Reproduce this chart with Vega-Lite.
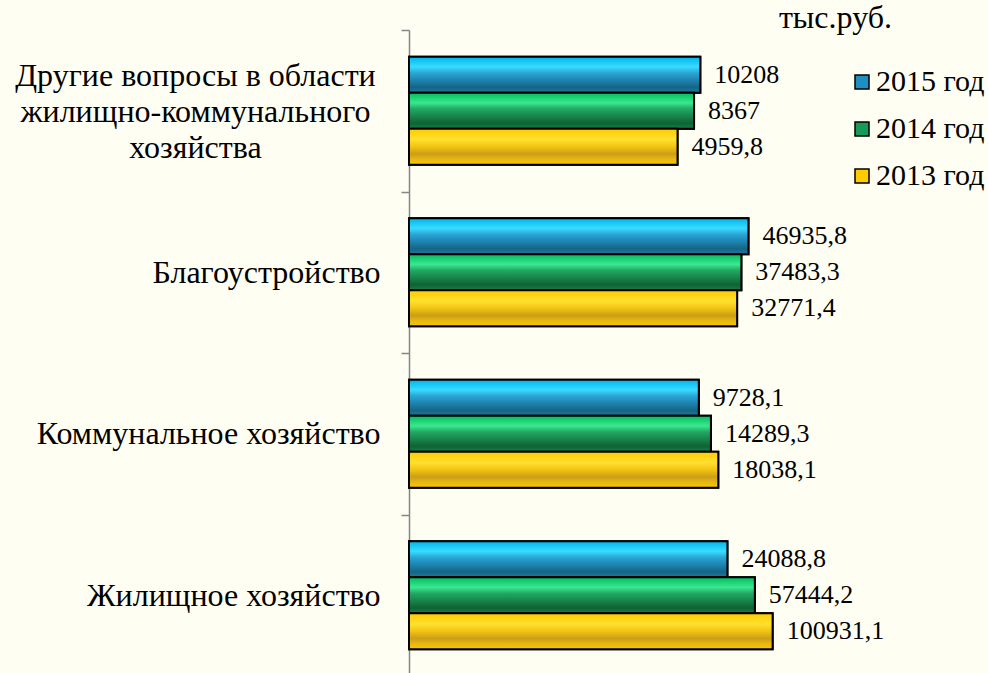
{
  "$schema": "https://vega.github.io/schema/vega-lite/v6.json",
  "width": 436,
  "height": 646,
  "autosize": {"type": "none"},
  "padding": {"left": 409, "top": 30, "right": 143, "bottom": 0},
  "background": "#fffef3",
  "title": {"text": "тыс.руб.", "orient": "top", "anchor": "end", "frame": "group", "align": "right", "dx": 47, "dy": 46, "offset": 0, "baseline": "alphabetic", "font": "Liberation Serif", "fontSize": 32, "fontWeight": "normal", "color": "#000000"},
  "config": {"view": {"stroke": null}, "font": "Liberation Serif"},
  "data": {"values": [
    {"cat": "Другие вопросы в области жилищно-коммунального хозяйства", "year": "2015 год", "value": 10208, "label": "10208"},
    {"cat": "Другие вопросы в области жилищно-коммунального хозяйства", "year": "2014 год", "value": 8367, "label": "8367"},
    {"cat": "Другие вопросы в области жилищно-коммунального хозяйства", "year": "2013 год", "value": 4959.8, "label": "4959,8"},
    {"cat": "Благоустройство", "year": "2015 год", "value": 46935.8, "label": "46935,8"},
    {"cat": "Благоустройство", "year": "2014 год", "value": 37483.3, "label": "37483,3"},
    {"cat": "Благоустройство", "year": "2013 год", "value": 32771.4, "label": "32771,4"},
    {"cat": "Коммунальное хозяйство", "year": "2015 год", "value": 9728.1, "label": "9728,1"},
    {"cat": "Коммунальное хозяйство", "year": "2014 год", "value": 14289.3, "label": "14289,3"},
    {"cat": "Коммунальное хозяйство", "year": "2013 год", "value": 18038.1, "label": "18038,1"},
    {"cat": "Жилищное хозяйство", "year": "2015 год", "value": 24088.8, "label": "24088,8"},
    {"cat": "Жилищное хозяйство", "year": "2014 год", "value": 57444.2, "label": "57444,2"},
    {"cat": "Жилищное хозяйство", "year": "2013 год", "value": 100931.1, "label": "100931,1"}
  ]},
  "encoding": {
    "y": {
      "field": "cat", "type": "nominal",
      "sort": ["Другие вопросы в области жилищно-коммунального хозяйства", "Благоустройство", "Коммунальное хозяйство", "Жилищное хозяйство"],
      "scale": {"paddingInner": 0, "paddingOuter": 0},
      "axis": {
        "title": null,
        "tickBand": "extent",
        "domainColor": "#868686",
        "domainWidth": 1.5,
        "tickColor": "#868686",
        "tickWidth": 1.5,
        "tickSize": 8,
        "labelFont": "Liberation Serif",
        "labelFontSize": 32,
        "labelColor": "#000000",
        "labelLimit": 500,
        "labelLineHeight": 36,
        "labelBaseline": "middle",
        "labelExpr": "datum.value == 'Другие вопросы в области жилищно-коммунального хозяйства' ? ['Другие вопросы в области', 'жилищно-коммунального', 'хозяйства'] : datum.label",
        "labelAlign": {"condition": {"test": "datum.value == 'Другие вопросы в области жилищно-коммунального хозяйства'", "value": "center"}, "value": "right"},
        "labelOffset": {"condition": {"test": "datum.value == 'Другие вопросы в области жилищно-коммунального хозяйства'", "value": -35}, "value": 0},
        "labelPadding": {"condition": {"test": "datum.value == 'Другие вопросы в области жилищно-коммунального хозяйства'", "value": 206}, "value": 21}
      }
    },
    "yOffset": {"field": "year", "type": "nominal", "sort": ["2015 год", "2014 год", "2013 год"], "scale": {"paddingInner": 0, "paddingOuter": 0.743}},
    "x": {"field": "value", "type": "quantitative", "scale": {"type": "log", "domain": [1, 1000000], "nice": false}, "axis": null}
  },
  "layer": [
    {
      "mark": {"type": "bar", "stroke": "#000000", "strokeWidth": 2, "cornerRadius": 0},
      "encoding": {
        "x2": {"datum": 1},
        "color": {
          "field": "year", "type": "nominal",
          "sort": ["2015 год", "2014 год", "2013 год"],
          "scale": {"domain": ["2015 год", "2014 год", "2013 год"], "range": ["#1e90c0", "#1a9a58", "#ffcc00"]},
          "legend": {
            "title": null, "orient": "none", "legendX": 438, "legendY": 37,
            "symbolType": "square", "symbolSize": 196, "symbolStrokeColor": "#000000", "symbolStrokeWidth": 1.5,
            "symbolOpacity": 1,
            "labelFont": "Liberation Serif", "labelFontSize": 30, "labelColor": "#000000", "labelOffset": -1,
            "rowPadding": 17
          }
        }
      }
    },
    {
      "transform": [{"filter": "datum.year == '2015 год'"}],
      "mark": {"type": "bar", "stroke": "#000000", "strokeWidth": 2,
        "fill": {"gradient": "linear", "x1": 0, "y1": 0, "x2": 0, "y2": 1, "stops": [
          {"offset": 0, "color": "#00b4ec"}, {"offset": 0.28, "color": "#38dcff"}, {"offset": 0.45, "color": "#2aa6d6"},
          {"offset": 0.62, "color": "#2088b6"}, {"offset": 0.85, "color": "#156585"}, {"offset": 1, "color": "#1f7aa0"}]}},
      "encoding": {"x2": {"datum": 1}}
    },
    {
      "transform": [{"filter": "datum.year == '2014 год'"}],
      "mark": {"type": "bar", "stroke": "#000000", "strokeWidth": 2,
        "fill": {"gradient": "linear", "x1": 0, "y1": 0, "x2": 0, "y2": 1, "stops": [
          {"offset": 0, "color": "#00bc5c"}, {"offset": 0.28, "color": "#3ae890"}, {"offset": 0.45, "color": "#22a862"},
          {"offset": 0.62, "color": "#1a8a4e"}, {"offset": 0.85, "color": "#0f6234"}, {"offset": 1, "color": "#17804a"}]}},
      "encoding": {"x2": {"datum": 1}}
    },
    {
      "transform": [{"filter": "datum.year == '2013 год'"}],
      "mark": {"type": "bar", "stroke": "#000000", "strokeWidth": 2,
        "fill": {"gradient": "linear", "x1": 0, "y1": 0, "x2": 0, "y2": 1, "stops": [
          {"offset": 0, "color": "#ffcc00"}, {"offset": 0.3, "color": "#ffe030"}, {"offset": 0.5, "color": "#f2c412"},
          {"offset": 0.7, "color": "#cc9e18"}, {"offset": 0.85, "color": "#e8b810"}, {"offset": 1, "color": "#f8c800"}]}},
      "encoding": {"x2": {"datum": 1}}
    },
    {
      "mark": {"type": "text", "align": "left", "baseline": "middle", "dx": 14, "font": "Liberation Serif", "fontSize": 26, "color": "#000000"},
      "encoding": {"text": {"field": "label"}}
    }
  ]
}
